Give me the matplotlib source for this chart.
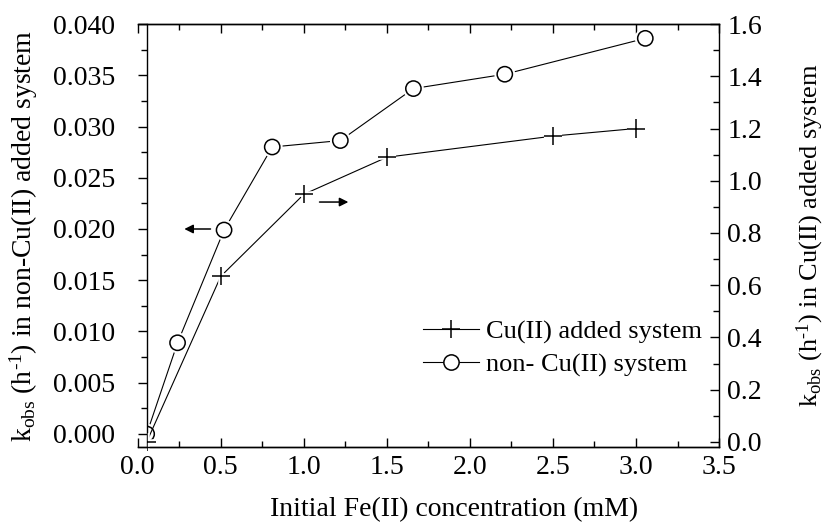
import numpy as np
import matplotlib
matplotlib.use('Agg')
import matplotlib.pyplot as plt
from matplotlib.ticker import MultipleLocator, FormatStrFormatter
from matplotlib.lines import Line2D
from matplotlib.patches import Rectangle
import matplotlib.patheffects as pe

plt.rcParams['font.family'] = ['Liberation Serif', 'DejaVu Serif']
plt.rcParams['mathtext.fontset'] = 'custom'
plt.rcParams['mathtext.rm'] = 'Liberation Serif'
plt.rcParams['mathtext.it'] = 'Liberation Serif:italic'
plt.rcParams['font.size'] = 20

# dados
fe_cu = [0.054, 0.5, 1.0, 1.5, 2.5, 3.0]            # Fe(II) inicial (mM), sistema com Cu(II)
k_cu = [0.0, 0.634, 0.948, 1.09, 1.171, 1.20]        # k_obs (1/h), eixo direito
fe_non = [0.054, 0.24, 0.52, 0.81, 1.22, 1.66, 2.21, 3.056]   # sistema sem Cu(II)
k_non = [0.0, 0.0089, 0.0199, 0.0280, 0.02863, 0.0337, 0.0351, 0.0386]  # eixo esquerdo

lab_cu = 'Cu(II) added system'
lab_non = 'non- Cu(II) system'

fig = plt.figure(figsize=(8.28, 5.23), dpi=100)
ax = fig.add_axes([0.1663, 0.1453, 0.7021, 0.8088])
ax2 = ax.twinx()

halo = [pe.withStroke(linewidth=4, foreground='white')]

# sem Cu(II) -> eixo esquerdo
clip1 = Rectangle((0.054, -1), 10, 10, transform=ax.transData)
l1, = ax.plot(fe_non, k_non, color='k', lw=0.8)
m1, = ax.plot(fe_non, k_non, ls='none', marker='o', ms=11, mfc='white',
              mec='k', mew=1.1, path_effects=halo)
l1.set_clip_path(clip1)
m1.set_clip_path(clip1)

# com Cu(II) -> eixo direito
clip2 = Rectangle((0.054, -1), 10, 10, transform=ax2.transData)
l2, = ax2.plot(fe_cu, k_cu, color='k', lw=0.8)
m2, = ax2.plot(fe_cu, k_cu, ls='none', marker='+', ms=13, mec='k', mew=1.1,
               path_effects=halo)
l2.set_clip_path(clip2)
m2.set_clip_path(clip2)

ax.set_xlim(0, 3.5)
ax.set_ylim(-0.00127, 0.040)
ax2.set_ylim(-0.0192, 1.6)

ax.xaxis.set_major_locator(MultipleLocator(0.5))
ax.xaxis.set_minor_locator(MultipleLocator(0.25))
ax.yaxis.set_major_locator(MultipleLocator(0.005))
ax.yaxis.set_minor_locator(MultipleLocator(0.0025))
ax2.yaxis.set_major_locator(MultipleLocator(0.2))
ax2.yaxis.set_minor_locator(MultipleLocator(0.1))
ax.xaxis.set_major_formatter(FormatStrFormatter('%.1f'))
ax.yaxis.set_major_formatter(FormatStrFormatter('%.3f'))
ax2.yaxis.set_major_formatter(FormatStrFormatter('%.1f'))

ax.spines['left'].set_position(('outward', -6.5))
ax.spines['right'].set_visible(False)
ax2.spines['left'].set_visible(False)
for a in (ax, ax2):
    for s in a.spines.values():
        s.set_linewidth(1.0)

ax.tick_params(axis='x', which='both', direction='in', top=True, bottom=True, pad=6, width=1.0)
ax.tick_params(axis='x', which='major', length=6.5)
ax.tick_params(axis='x', which='minor', length=4.5)
ax.tick_params(axis='y', which='both', direction='out', width=1.0, pad=16)
ax.tick_params(axis='y', which='major', length=6.5)
ax.tick_params(axis='y', which='minor', length=4.5)
ax2.tick_params(axis='y', which='both', direction='in', width=1.0, pad=6)
ax2.tick_params(axis='y', which='major', length=6.5)
ax2.tick_params(axis='y', which='minor', length=4.5)

ax.set_xlabel('Initial Fe(II) concentration (mM)')
ax.xaxis.set_label_coords(0.544, -0.118)
ax.set_ylabel('k$_{\\mathrm{obs}}$ (h$^{\\mathrm{\u20101}}$) in non-Cu(II) added system')
ax.yaxis.set_label_coords(-0.168, 0.5)
ax2.set_ylabel('k$_{\\mathrm{obs}}$ (h$^{\\mathrm{\u20101}}$) in Cu(II) added system', fontsize=19)
ax2.yaxis.set_label_coords(1.13, 0.5)

# setas indicando o eixo de cada curva
ax.annotate('', xy=(0.264, 0.0200), xytext=(0.455, 0.0200),
            arrowprops=dict(arrowstyle='-|>', color='k', lw=1.1, mutation_scale=13))
ax.annotate('', xy=(1.285, 0.02263), xytext=(1.078, 0.02263),
            arrowprops=dict(arrowstyle='-|>', color='k', lw=1.1, mutation_scale=13))

h1 = Line2D([], [], color='k', lw=0.8, marker='+', ms=13, mew=1.1)
h2 = Line2D([], [], color='k', lw=0.8, marker='o', ms=11, mfc='white', mew=1.1)
ax2.legend([h1, h2], [lab_cu, lab_non], loc='upper left', bbox_to_anchor=(0.491, 0.30),
           frameon=False, handlelength=2.1, handletextpad=0.3, borderpad=0,
           borderaxespad=0, labelspacing=0.35, numpoints=1, fontsize=19)

fig.savefig('out.png', dpi=100)
